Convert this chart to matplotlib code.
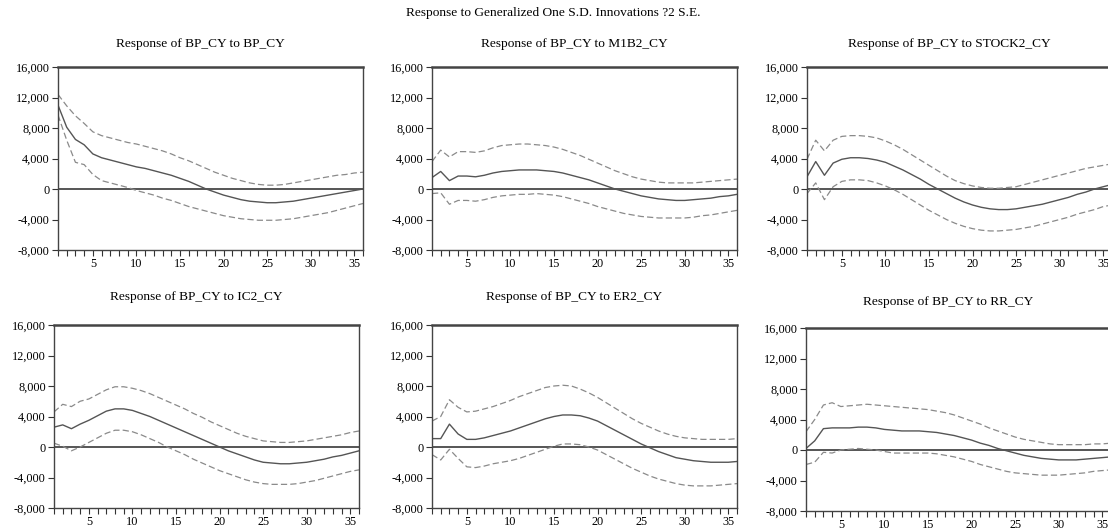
import numpy as np
import matplotlib
matplotlib.use('Agg')
import matplotlib.pyplot as plt
from matplotlib.ticker import FuncFormatter, MultipleLocator

plt.rcParams['font.family'] = ['Liberation Serif', 'DejaVu Serif']

periods = np.arange(1, 37)

# impulse responses (thousands)
bp_mid = [11.0, 8.1, 6.5, 5.8, 4.6, 4.1, 3.8, 3.5, 3.2, 2.9, 2.7, 2.4, 2.1, 1.8, 1.4, 1.0, 0.5, 0.0,
          -0.4, -0.8, -1.1, -1.4, -1.6, -1.7, -1.8, -1.8, -1.7, -1.6, -1.4, -1.2, -1.0, -0.8, -0.6, -0.4, -0.2, 0.0]
bp_hi = [12.4, 10.9, 9.6, 8.6, 7.5, 7.0, 6.7, 6.4, 6.1, 5.9, 5.6, 5.3, 5.0, 4.6, 4.1, 3.7, 3.2, 2.7,
         2.2, 1.8, 1.4, 1.1, 0.8, 0.6, 0.5, 0.5, 0.6, 0.8, 1.0, 1.2, 1.4, 1.6, 1.8, 1.9, 2.1, 2.2]
bp_lo = [9.7, 6.4, 3.5, 3.2, 1.9, 1.1, 0.8, 0.5, 0.2, -0.2, -0.5, -0.8, -1.2, -1.5, -1.9, -2.3, -2.6, -2.9,
         -3.2, -3.5, -3.7, -3.9, -4.0, -4.1, -4.1, -4.1, -4.0, -3.9, -3.7, -3.5, -3.3, -3.1, -2.8, -2.5, -2.2, -1.9]

m1_mid = [1.5, 2.3, 1.1, 1.7, 1.7, 1.6, 1.8, 2.1, 2.3, 2.4, 2.5, 2.5, 2.5, 2.4, 2.3, 2.1, 1.8, 1.5,
          1.2, 0.8, 0.4, 0.0, -0.3, -0.6, -0.9, -1.1, -1.3, -1.4, -1.5, -1.5, -1.4, -1.3, -1.2, -1.0, -0.9, -0.7]
m1_hi = [3.6, 5.1, 4.2, 4.9, 4.9, 4.8, 5.0, 5.4, 5.7, 5.8, 5.9, 5.9, 5.8, 5.7, 5.5, 5.2, 4.8, 4.4,
         3.9, 3.4, 2.9, 2.4, 2.0, 1.6, 1.3, 1.1, 0.9, 0.8, 0.8, 0.8, 0.8, 0.9, 1.0, 1.1, 1.2, 1.3]
m1_lo = [-0.6, -0.5, -2.0, -1.5, -1.5, -1.6, -1.4, -1.1, -0.9, -0.8, -0.7, -0.7, -0.6, -0.7, -0.8, -1.0, -1.3, -1.6,
         -1.9, -2.3, -2.6, -2.9, -3.2, -3.4, -3.6, -3.7, -3.8, -3.8, -3.8, -3.8, -3.7, -3.5, -3.4, -3.2, -3.0, -2.8]

st_mid = [1.6, 3.6, 1.8, 3.4, 3.9, 4.1, 4.1, 4.0, 3.8, 3.5, 3.0, 2.5, 1.9, 1.3, 0.6, 0.0, -0.6, -1.2,
          -1.7, -2.1, -2.4, -2.6, -2.7, -2.7, -2.6, -2.4, -2.2, -2.0, -1.7, -1.4, -1.1, -0.7, -0.4, 0.0, 0.3, 0.6]
st_hi = [3.9, 6.4, 5.0, 6.4, 6.9, 7.0, 7.0, 6.9, 6.7, 6.3, 5.8, 5.2, 4.5, 3.8, 3.1, 2.4, 1.7, 1.1,
         0.7, 0.4, 0.2, 0.1, 0.1, 0.2, 0.3, 0.6, 0.9, 1.2, 1.5, 1.8, 2.1, 2.4, 2.7, 2.9, 3.1, 3.3]
st_lo = [-0.6, 0.8, -1.4, 0.3, 1.0, 1.2, 1.2, 1.1, 0.8, 0.4, -0.1, -0.7, -1.4, -2.1, -2.8, -3.4, -4.0, -4.5,
         -4.9, -5.2, -5.4, -5.5, -5.5, -5.4, -5.3, -5.1, -4.9, -4.6, -4.3, -4.0, -3.7, -3.3, -3.0, -2.7, -2.3, -2.1]

ic_mid = [2.6, 2.9, 2.4, 3.0, 3.5, 4.1, 4.7, 5.0, 5.0, 4.8, 4.4, 4.0, 3.5, 3.0, 2.5, 2.0, 1.5, 1.0,
          0.5, 0.0, -0.5, -0.9, -1.3, -1.7, -2.0, -2.1, -2.2, -2.2, -2.1, -2.0, -1.8, -1.6, -1.3, -1.1, -0.8, -0.5]
ic_hi = [4.6, 5.6, 5.3, 6.0, 6.3, 6.9, 7.5, 7.9, 7.9, 7.7, 7.4, 7.0, 6.5, 6.0, 5.5, 5.0, 4.4, 3.9,
         3.3, 2.8, 2.3, 1.8, 1.4, 1.1, 0.8, 0.7, 0.6, 0.6, 0.7, 0.8, 1.0, 1.2, 1.4, 1.6, 1.9, 2.1]
ic_lo = [0.5, 0.1, -0.5, 0.0, 0.6, 1.2, 1.8, 2.2, 2.2, 2.0, 1.6, 1.1, 0.6, 0.0, -0.5, -1.0, -1.6, -2.1,
         -2.6, -3.1, -3.5, -3.9, -4.3, -4.6, -4.8, -4.9, -4.9, -4.9, -4.8, -4.6, -4.4, -4.1, -3.8, -3.5, -3.2, -3.0]

er_mid = [1.1, 1.1, 3.0, 1.7, 1.0, 1.0, 1.2, 1.5, 1.8, 2.1, 2.5, 2.9, 3.3, 3.7, 4.0, 4.2, 4.2, 4.1,
          3.8, 3.4, 2.8, 2.2, 1.6, 1.0, 0.4, -0.1, -0.6, -1.0, -1.4, -1.6, -1.8, -1.9, -2.0, -2.0, -2.0, -1.9]
er_hi = [3.4, 4.0, 6.2, 5.2, 4.6, 4.7, 5.0, 5.3, 5.7, 6.1, 6.6, 7.0, 7.4, 7.8, 8.0, 8.1, 8.0, 7.6,
         7.1, 6.5, 5.8, 5.1, 4.4, 3.7, 3.1, 2.6, 2.1, 1.7, 1.4, 1.2, 1.1, 1.0, 1.0, 1.0, 1.0, 1.1]
er_lo = [-1.0, -1.7, -0.3, -1.5, -2.6, -2.7, -2.5, -2.2, -2.0, -1.8, -1.5, -1.1, -0.7, -0.3, 0.1, 0.4, 0.4, 0.3,
         0.0, -0.4, -1.0, -1.6, -2.2, -2.8, -3.3, -3.8, -4.2, -4.5, -4.8, -5.0, -5.1, -5.1, -5.1, -5.0, -4.9, -4.8]

rr_mid = [0.2, 1.2, 2.8, 2.9, 2.9, 2.9, 3.0, 3.0, 2.9, 2.7, 2.6, 2.5, 2.5, 2.5, 2.4, 2.3, 2.1, 1.9,
          1.6, 1.3, 0.9, 0.6, 0.2, -0.1, -0.4, -0.7, -0.9, -1.1, -1.2, -1.3, -1.3, -1.3, -1.2, -1.1, -1.0, -0.9]
rr_hi = [2.4, 4.0, 5.9, 6.2, 5.7, 5.8, 5.9, 6.0, 5.9, 5.8, 5.7, 5.6, 5.5, 5.4, 5.3, 5.1, 4.9, 4.6,
         4.2, 3.8, 3.4, 2.9, 2.5, 2.1, 1.7, 1.4, 1.2, 1.0, 0.8, 0.7, 0.7, 0.7, 0.7, 0.8, 0.8, 0.9]
rr_lo = [-1.9, -1.6, -0.3, -0.4, 0.0, 0.1, 0.2, 0.1, 0.0, -0.2, -0.4, -0.4, -0.4, -0.4, -0.4, -0.5, -0.7, -0.9,
         -1.2, -1.5, -1.9, -2.2, -2.5, -2.8, -3.0, -3.1, -3.2, -3.3, -3.3, -3.3, -3.2, -3.1, -3.0, -2.8, -2.7, -2.6]

panel_titles = ['Response of BP_CY to BP_CY', 'Response of BP_CY to M1B2_CY', 'Response of BP_CY to STOCK2_CY',
                'Response of BP_CY to IC2_CY', 'Response of BP_CY to ER2_CY', 'Response of BP_CY to RR_CY']
series = [(bp_mid, bp_hi, bp_lo), (m1_mid, m1_hi, m1_lo), (st_mid, st_hi, st_lo),
          (ic_mid, ic_hi, ic_lo), (er_mid, er_hi, er_lo), (rr_mid, rr_hi, rr_lo)]

W, H = 1108, 530
# pixel boxes: left, top, bottom, title y
boxes = [(58, 67, 250, 44), (432, 67, 250, 44), (807, 67, 250, 44),
         (54, 325, 508, 297), (432, 325, 508, 297), (806, 328, 511, 302)]
box_w = 305

fig = plt.figure(figsize=(W / 100, H / 100), dpi=100)
fig.text(553 / W, 1 - 13 / H, 'Response to Generalized One S.D. Innovations ?2 S.E.',
         ha='center', va='center', fontsize=9.6)

fmt = FuncFormatter(lambda v, p: f'{v * 1000:,.0f}')

for (left, top, bot, ty), title, (mid, hi, lo) in zip(boxes, panel_titles, series):
    ax = fig.add_axes([left / W, 1 - bot / H, box_w / W, (bot - top) / H])
    ax.axhline(0, color='#555555', lw=1.4, zorder=1)
    ax.plot(periods, hi, color='#8a8a8a', lw=0.9, ls=(0, (5, 2.5)))
    ax.plot(periods, lo, color='#8a8a8a', lw=0.9, ls=(0, (5, 2.5)))
    ax.plot(periods, mid, color='#555555', lw=1.0)
    ax.set_xlim(1, 36)
    ax.set_ylim(-8, 16)
    ax.set_yticks([-8, -4, 0, 4, 8, 12, 16])
    ax.yaxis.set_major_formatter(fmt)
    ax.xaxis.set_major_locator(MultipleLocator(5))
    ax.xaxis.set_minor_locator(MultipleLocator(1))
    ax.tick_params(axis='both', which='both', direction='out', length=4, width=0.8,
                   color='#333333', labelsize=8.8, pad=2)
    for name, sp in ax.spines.items():
        sp.set_color('#444444')
        sp.set_linewidth(1.0)
    ax.spines['top'].set_linewidth(1.8)
    fig.text((left + box_w / 2 - 10) / W, 1 - ty / H, title, ha='center', va='center', fontsize=9.6)

plt.savefig('out.png', dpi=100)
